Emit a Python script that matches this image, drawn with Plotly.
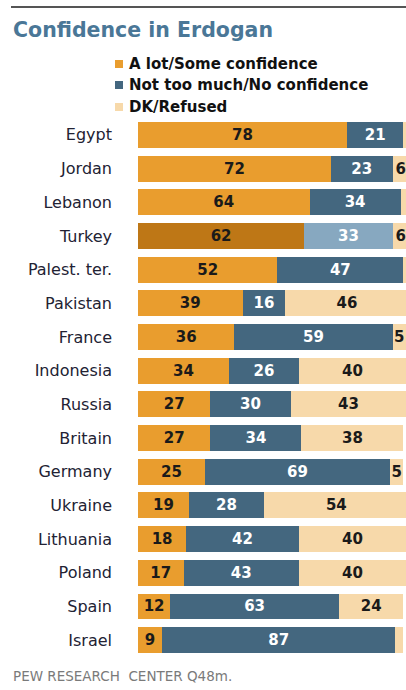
import plotly.graph_objects as go

countries = ["Egypt", "Jordan", "Lebanon", "Turkey", "Palest. ter.", "Pakistan", "France",
             "Indonesia", "Russia", "Britain", "Germany", "Ukraine", "Lithuania", "Poland",
             "Spain", "Israel"]
confidence = [78, 72, 64, 62, 52, 39, 36, 34, 27, 27, 25, 19, 18, 17, 12, 9]
no_confidence = [21, 23, 34, 33, 47, 16, 59, 26, 30, 34, 69, 28, 42, 43, 63, 87]
dk_refused = [1, 6, 2, 6, 1, 46, 5, 40, 43, 38, 5, 54, 40, 40, 24, 3]
dk_label_shown = [False, True, False, True, False, True, True, True, True, True, True, True, True, True, True, False]

series_names = ["A lot/Some confidence", "Not too much/No confidence", "DK/Refused"]
base_colors = ["#E99D2E", "#44677F", "#F7D9AA"]
highlight_colors = ["#BE7716", "#87A8C0", "#F7D9AA"]
highlight = "Turkey"

W, H = 406, 690
L, R, T, B = 138, 0, 118, 33
PW, PH = W - L - R, H - T - B


def px(x):
    return (x - L) / PW


def py(y):
    return (H - B - y) / PH


FONT = "DejaVu Sans, Verdana, sans-serif"

fig = go.Figure()
for i, (vals, name) in enumerate(zip([confidence, no_confidence, dk_refused], series_names)):
    colors = [highlight_colors[i] if c == highlight else base_colors[i] for c in countries]
    if i == 2:
        texts = [str(v) if s else "" for v, s in zip(vals, dk_label_shown)]
    else:
        texts = [str(v) for v in vals]
    fig.add_trace(go.Bar(
        y=countries, x=vals, orientation="h", name=name,
        marker=dict(color=colors, line=dict(width=0)),
        text=texts, textposition="inside", insidetextanchor="middle", textangle=0,
        constraintext="none",
        textfont=dict(family=FONT, size=15, weight="bold",
                      color="#FFFFFF" if i == 1 else "#1A1A1A"),
        showlegend=False, hoverinfo="skip",
    ))

fig.update_layout(
    barmode="stack", bargap=0.23,
    width=W, height=H, margin=dict(l=L, r=R, t=T, b=B),
    paper_bgcolor="white", plot_bgcolor="white",
    uniformtext=dict(minsize=15, mode="show"),
    font=dict(family=FONT),
    xaxis=dict(range=[0, 100], visible=False, fixedrange=True),
    yaxis=dict(autorange="reversed", showgrid=False, zeroline=False, showline=False,
               ticks="", ticklabelstandoff=25, fixedrange=True,
               tickfont=dict(family=FONT, size=16, color="#222233")),
)

# top rule
fig.add_shape(type="line", xref="paper", yref="paper", x0=px(11), x1=px(406), y0=py(7), y1=py(7),
              line=dict(color="#555555", width=2))

annotations = [
    dict(text="Confidence in Erdogan", x=px(11), y=py(30), xanchor="left", yanchor="middle",
         font=dict(family=FONT, size=20.5, color="#4A7797", weight="bold")),
    dict(text="PEW RESEARCH  CENTER Q48m.", x=px(11), y=py(676), xanchor="left", yanchor="middle",
         font=dict(family=FONT, size=13.5, color="#7A7A7A")),
]
legend_y = [64, 85, 107]
for name, col, yy in zip(series_names, base_colors, legend_y):
    fig.add_shape(type="rect", xref="paper", yref="paper", x0=px(115), x1=px(123),
                  y0=py(yy + 4), y1=py(yy - 4), fillcolor=col, line=dict(width=0))
    annotations.append(dict(text=name, x=px(127), y=py(yy), xanchor="left", yanchor="middle",
                            font=dict(family=FONT, size=15, color="#111111", weight="bold")))

for a in annotations:
    a.update(xref="paper", yref="paper", showarrow=False)
fig.update_layout(annotations=annotations)

fig.write_html("out.html", config={"displayModeBar": False},
               post_script="document.body.style.margin='0';document.body.style.overflow='hidden';")
